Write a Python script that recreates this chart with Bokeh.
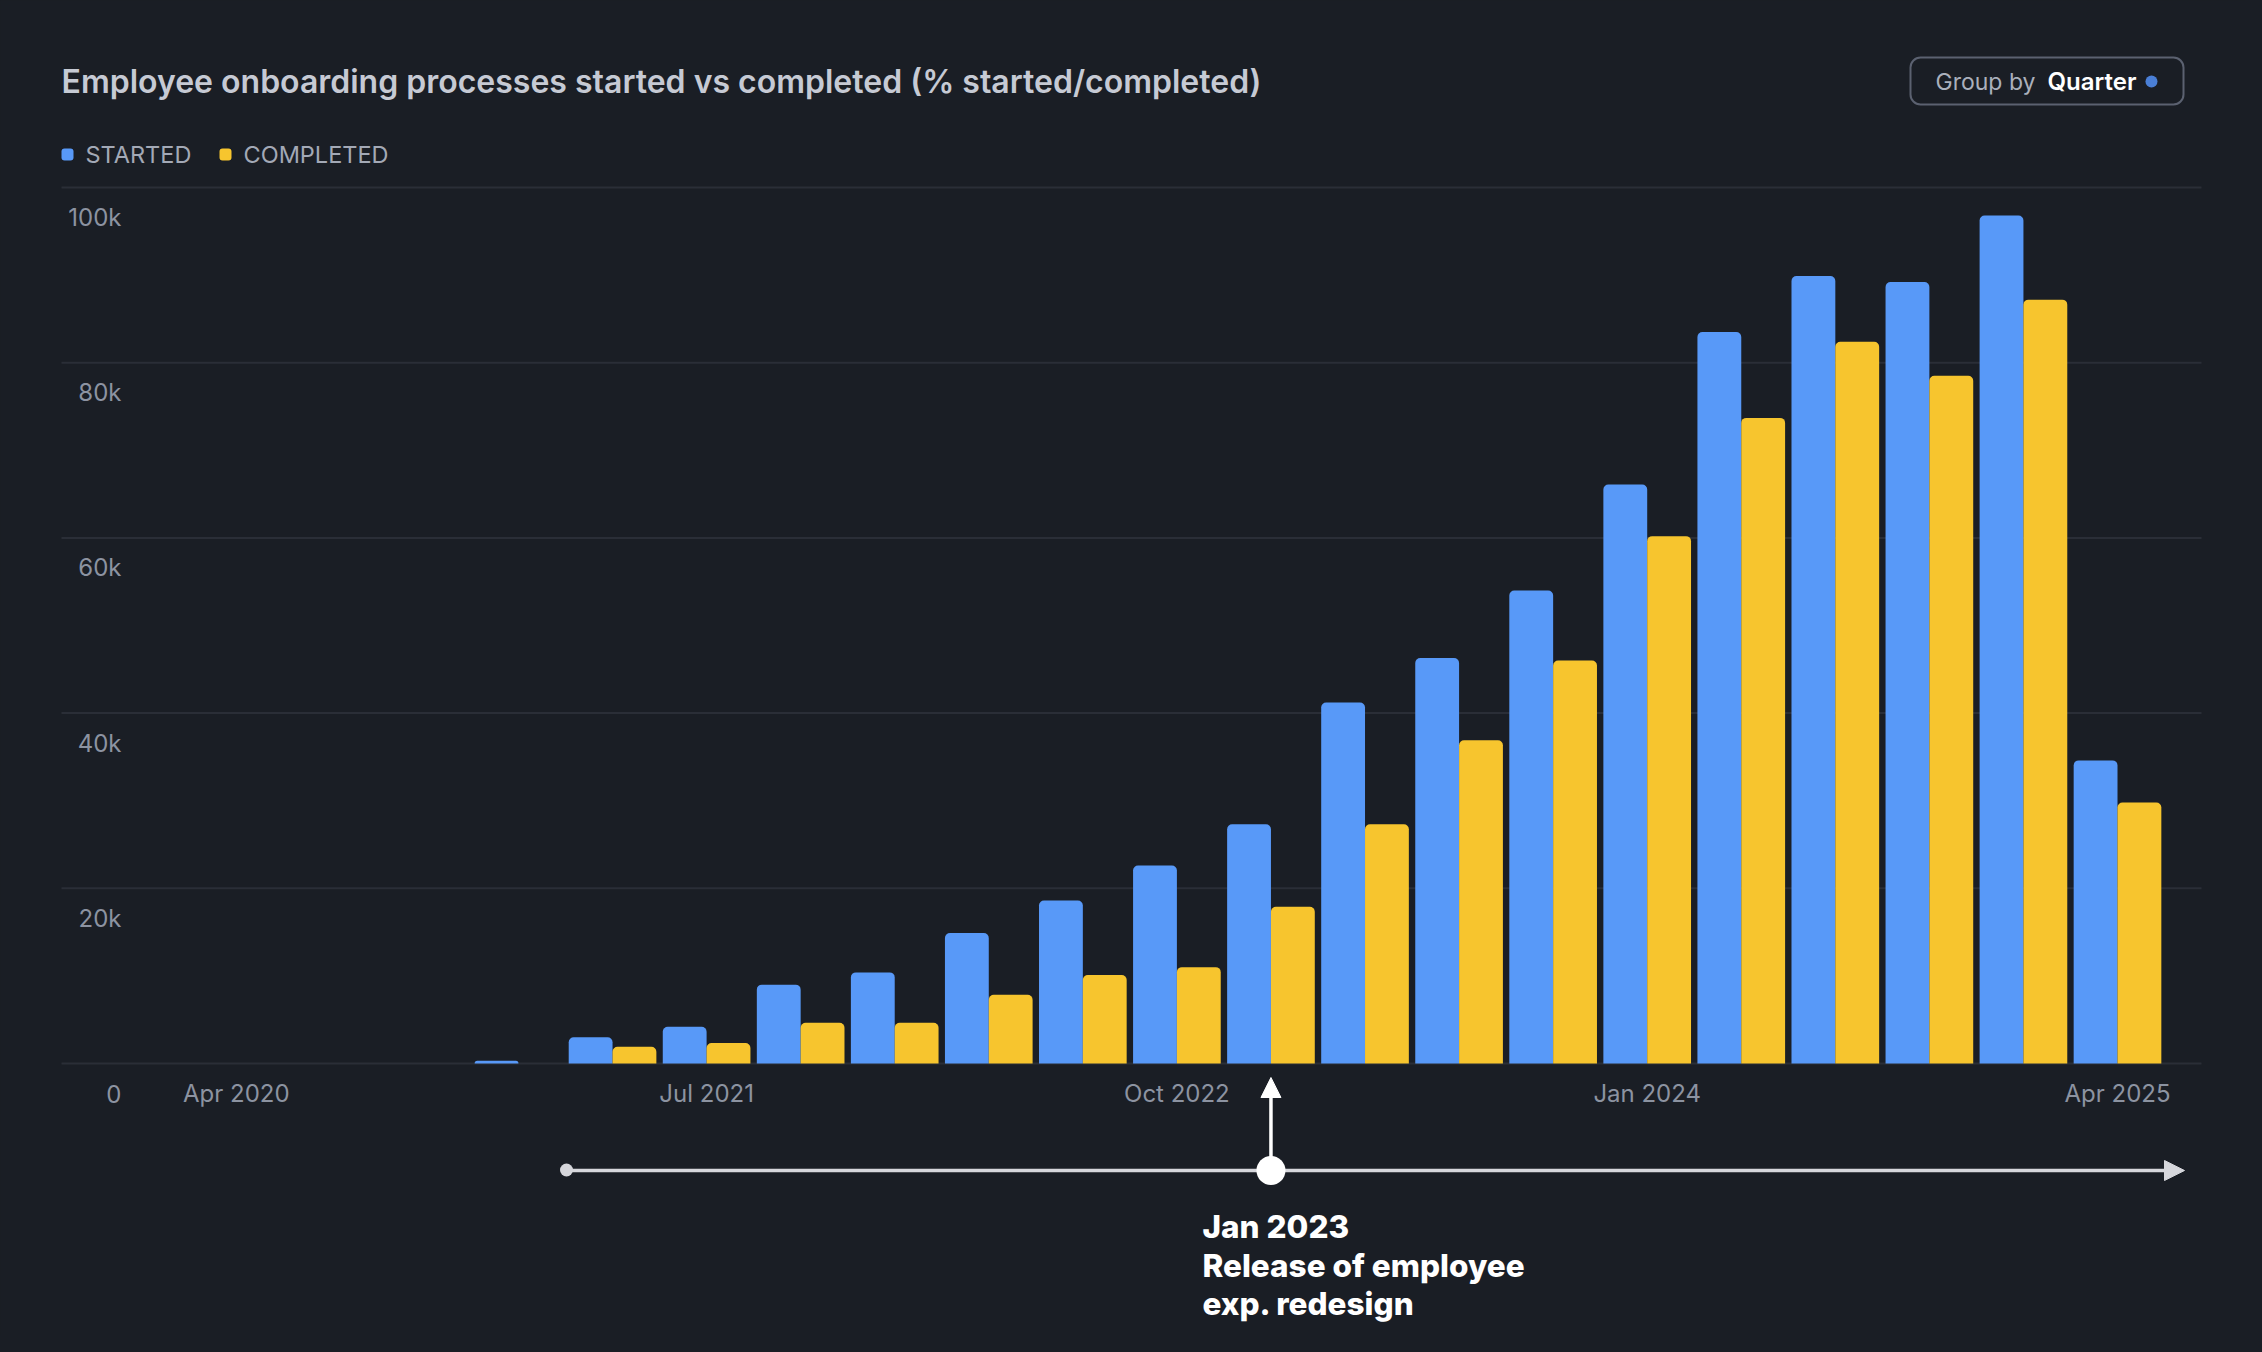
from bokeh.plotting import figure
from bokeh.models import (Range1d, Label, BoxAnnotation, Arrow, NormalHead,
                          GlobalInlineStyleSheet, ColumnDataSource)
from bokeh.core.properties import value
from bokeh.transform import dodge
from bokeh.embed import file_html
from bokeh.resources import INLINE

# ---------------- data ----------------
quarters = ["Apr 2020", "Jul 2020", "Oct 2020", "Jan 2021", "Apr 2021", "Jul 2021", "Oct 2021",
            "Jan 2022", "Apr 2022", "Jul 2022", "Oct 2022", "Jan 2023", "Apr 2023", "Jul 2023",
            "Oct 2023", "Jan 2024", "Apr 2024", "Jul 2024", "Oct 2024", "Jan 2025", "Apr 2025"]
started = [0, 0, 0, 300, 3000, 4200, 9000, 10400, 14900, 18600, 22600, 27300, 41200, 46300,
           54000, 66100, 83500, 89900, 89200, 96800, 34600]
completed = [0, 0, 0, 0, 1900, 2350, 4650, 4650, 7850, 10100, 11000, 17900, 27300, 36900,
             46000, 60200, 73700, 82400, 78500, 87200, 29800]
series_names = ["STARTED", "COMPLETED"]
y_ticks = [0, 20000, 40000, 60000, 80000, 100000]
y_tick_labels = ["0", "20k", "40k", "60k", "80k", "100k"]
x_ticks = [0, 5, 10, 15, 20]
x_tick_labels = ["Apr 2020", "Jul 2021", "Oct 2022", "Jan 2024", "Apr 2025"]
title_text = "Employee onboarding processes started vs completed (% started/completed)"
group_by_label = "Group by"
group_by_value = "Quarter"
event_index = 11  # Jan 2023
event_lines = ["Jan 2023", "Release of employee", "exp. redesign"]

# ---------------- styles / layout ----------------
BG = "#1a1e25"
BLUE = "#5899f8"
YELLOW = "#f7c52e"
GRID = "#2a2e37"
AXIS_TXT = "#8c93a1"
LEGEND_TXT = "#a3a9b6"
TITLE_TXT = "#c6cad4"
LINE_C = "#d6d7dc"
FONT = "Inter"
FONT_SEMI = "'Inter SemiBold', Inter"
FONT_HEAVY = "'Inter ExtraBold', Inter"

W, H = 2246, 1336
# plot area in pixels (page == figure coordinates)
PL, PR, PT, PB = 61, 2201, 187, 1063
Q0_PX, Q_PX = 235.8, 94.06          # pixel of first quarter, pixels per quarter
Y_PX = (PB - PT) / 100000.0         # pixels per unit of y


def dx(px):
    return (px - Q0_PX) / Q_PX


def dy(py):
    return (PB - py) / Y_PX


p = figure(width=W, height=H, x_range=Range1d(dx(0), dx(W)), y_range=Range1d(dy(H), dy(0)),
           output_backend="svg", toolbar_location=None, x_axis_location=None,
           y_axis_location=None, min_border=0,
           background_fill_color=BG, border_fill_color=BG, outline_line_color=None)
p.stylesheets = [GlobalInlineStyleSheet(css="html, body { background: %s; }" % BG)]
p.xgrid.visible = False
p.ygrid.visible = False

# horizontal grid lines across the plot area
p.segment(x0=[dx(PL)] * len(y_ticks), x1=[dx(PR)] * len(y_ticks), y0=y_ticks, y1=y_ticks,
          line_color=GRID, line_width=2)

src = ColumnDataSource(dict(x=list(range(len(quarters))), q=quarters,
                            started=started, completed=completed))
BW = 0.466
p.vbar(x=dodge("x", -BW / 2), top="started", width=BW, source=src, fill_color=BLUE,
       line_color=None, border_radius=(5, 5, 0, 0))
p.vbar(x=dodge("x", BW / 2), top="completed", width=BW, source=src, fill_color=YELLOW,
       line_color=None, border_radius=(5, 5, 0, 0))

LBL_DROP = 30 / Y_PX  # tick labels sit 30px below their line
# y tick labels
p.text(x=[dx(121)] * len(y_ticks), y=[v - LBL_DROP for v in y_ticks], text=y_tick_labels,
       text_align="right", text_baseline="middle", text_font=value(FONT),
       text_font_size="24px", text_color=AXIS_TXT)
# x tick labels
p.text(x=x_ticks, y=[-LBL_DROP] * len(x_ticks), text=x_tick_labels, text_align="center",
       text_baseline="middle", text_font=value(FONT), text_font_size="24px",
       text_color=AXIS_TXT)

# title
p.add_layout(Label(x=dx(61), y=dy(81), text=title_text, text_baseline="middle",
                   text_font=FONT_SEMI, text_font_size="32px", text_font_style="bold",
                   text_color=TITLE_TXT))


def box(cx, cy, w, h, color, r, line=None, lw=0):
    return BoxAnnotation(left=dx(cx - w / 2), right=dx(cx + w / 2), top=dy(cy - h / 2),
                         bottom=dy(cy + h / 2), fill_color=color, fill_alpha=1,
                         line_color=line, line_alpha=1 if line else 0, line_width=lw,
                         border_radius=int(round(r)), editable=False)


# legend
p.add_layout(box(67, 154, 12, 12, BLUE, 3))
p.add_layout(Label(x=dx(85), y=dy(154), text=series_names[0], text_baseline="middle",
                   text_font=FONT, text_font_size="23.5px", text_color=LEGEND_TXT))
p.add_layout(box(225, 154, 12, 12, YELLOW, 3))
p.add_layout(Label(x=dx(243), y=dy(154), text=series_names[1], text_baseline="middle",
                   text_font=FONT, text_font_size="23.5px", text_color=LEGEND_TXT))

# group-by button
p.add_layout(box((1910 + 2183) / 2, 80.5, 273, 47, BG, 10, line="#5b6170", lw=2))
p.add_layout(Label(x=dx(1935), y=dy(81), text=group_by_label, text_baseline="middle",
                   text_font=FONT, text_font_size="23px", text_color="#aab0bc"))
p.add_layout(Label(x=dx(2047), y=dy(81), text=group_by_value, text_baseline="middle",
                   text_font=FONT_SEMI, text_font_size="24px", text_font_style="bold",
                   text_color="#ffffff"))
p.add_layout(box(2151, 81, 12, 12, "#4a7fd6", 6))

# timeline annotation
p.add_layout(Arrow(x_start=dx(566), y_start=dy(1170), x_end=dx(2184), y_end=dy(1170),
                   line_color=LINE_C, line_width=3.5,
                   end=NormalHead(size=20, fill_color=LINE_C, line_color=LINE_C, line_width=1)))
p.add_layout(box(566, 1169.5, 13, 13, LINE_C, 7))
p.add_layout(Arrow(x_start=event_index, y_start=dy(1160), x_end=event_index, y_end=dy(1077),
                   line_color="#ffffff", line_width=3.5,
                   end=NormalHead(size=20, fill_color="#ffffff", line_color="#ffffff",
                                  line_width=1)))
ev_px = Q0_PX + event_index * Q_PX
p.add_layout(box(ev_px, 1170, 29, 29, "#ffffff", 15))
for i, line in enumerate(event_lines):
    p.add_layout(Label(x=dx(1202), y=dy(1226 + i * 38.5), text=line, text_baseline="middle",
                       text_font=FONT_HEAVY, text_font_size="31.5px", text_font_style="bold",
                       text_color="#ffffff"))

open("out.html", "w").write(file_html(p, INLINE))
